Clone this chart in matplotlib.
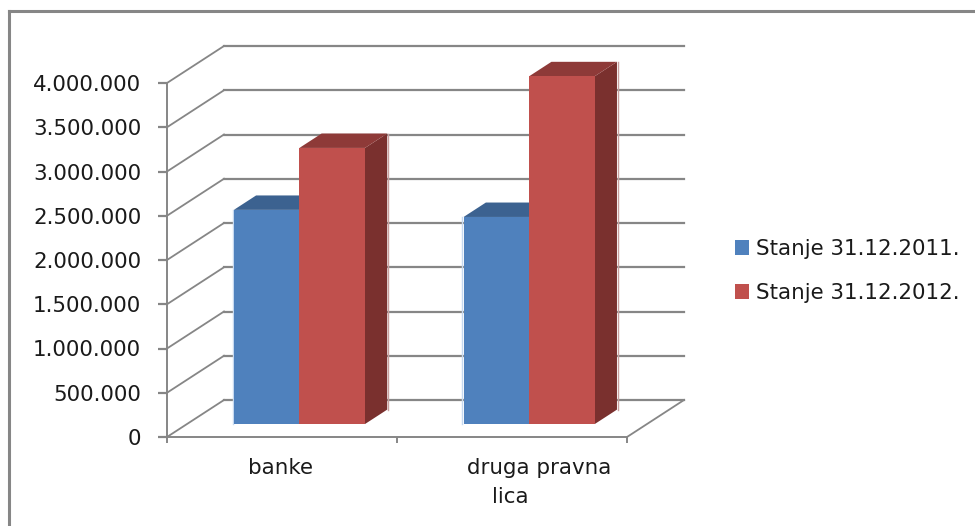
import matplotlib
matplotlib.use("Agg")
import matplotlib.pyplot as plt
from matplotlib.lines import Line2D
from matplotlib.patches import Patch

categories = ["banke", "druga pravna"]
series_names = ["Stanje 31.12.2011.", "Stanje 31.12.2012."]
stanje_2011 = [2420000, 2340000]
stanje_2012 = [3120000, 3930000]
yticks = [0, 500000, 1000000, 1500000, 2000000, 2500000, 3000000, 3500000, 4000000]
ylabels = ["0", "500.000", "1.000.000", "1.500.000", "2.000.000", "2.500.000",
           "3.000.000", "3.500.000", "4.000.000"]

GRAY = "#868686"
TEXT = "#1a1a1a"
FONT = 15.4
FRONT = ["#4F81BD", "#C0504D"]
TOP = ["#3C6290", "#8E3A38"]
SIDE = ["#345578", "#7A302E"]

W, H = 975, 526
fig = plt.figure(figsize=(W / 100, H / 100), dpi=100)
ax = fig.add_axes([167 / W, (H - 437) / H, 460 / W, 354 / H])
ax.set_xlim(0, 2)
ax.set_ylim(0, 4000000)

# depth of the 3d box, in data units
DX = 57 / 230
DY = 37 / 354 * 4000000
D_FRONT = 0.35
D_BACK = 0.74
BAR_W = 0.285
START = [0.204, 1.203]


def proj(x, v, d):
    return x + d * DX, v + d * DY


def box(x, v, i):
    x0, x1 = x, x + BAR_W
    face = [proj(x0, 0, D_FRONT), proj(x1, 0, D_FRONT), proj(x1, v, D_FRONT), proj(x0, v, D_FRONT)]
    top = [proj(x0, v, D_FRONT), proj(x1, v, D_FRONT), proj(x1, v, D_BACK), proj(x0, v, D_BACK)]
    side = [proj(x1, 0, D_FRONT), proj(x1, 0, D_BACK), proj(x1, v, D_BACK), proj(x1, v, D_FRONT)]
    for pts, col in ((side, SIDE[i]), (top, TOP[i]), (face, FRONT[i])):
        xs, ys = zip(*pts)
        ax.fill(xs, ys, color=col, lw=0, zorder=3 + i, clip_on=False)


# walls
for v in yticks:
    bx, by = proj(0, v, 1)
    ax.plot([0, bx], [v, by], color=GRAY, lw=1.3, zorder=2, clip_on=False)
    ex, ey = proj(2, v, 1)
    ax.plot([bx, ex], [by, ey], color=GRAY, lw=1.6, zorder=2, clip_on=False)
ex, ey = proj(2, 0, 1)
ax.plot([2, ex], [0, ey], color=GRAY, lw=1.3, zorder=2, clip_on=False)

for k in range(len(categories)):
    box(START[k], stanje_2011[k], 0)
    box(START[k] + BAR_W, stanje_2012[k], 1)
    # pale rims around the bars
    x0, y0 = proj(START[k], 0, D_FRONT)
    x1, y1 = proj(START[k], stanje_2011[k], D_FRONT)
    ax.plot([x0 - 0.005, x1 - 0.005], [y0, y1], color="#C6D9F0", lw=1.0, zorder=2.5, clip_on=False)
    x0, y0 = proj(START[k] + 2 * BAR_W, 0, D_BACK)
    x1, y1 = proj(START[k] + 2 * BAR_W, stanje_2012[k], D_BACK)
    ax.plot([x0 + 0.004, x1 + 0.004], [y0, y1], color="#C9A0A0", lw=1.0, zorder=2.5, clip_on=False)

for s in ("top", "right"):
    ax.spines[s].set_visible(False)
for s in ("left", "bottom"):
    ax.spines[s].set_color(GRAY)
    ax.spines[s].set_linewidth(1.4)

ax.set_yticks(yticks)
ax.set_yticklabels(ylabels, fontsize=FONT, color=TEXT)
ax.tick_params(axis="y", length=6.5, width=1.6, color=GRAY, pad=12)
ax.set_xticks([0, 1, 2])
ax.set_xticklabels([])
ax.tick_params(axis="x", length=4, width=1.4, color=GRAY)

# category labels
fig.text(281 / W, 1 - 468 / H, categories[0], fontsize=FONT, color=TEXT, ha="center", va="center")
fig.text(539 / W, 1 - 468 / H, categories[1], fontsize=FONT, color=TEXT, ha="center", va="center")
fig.text(510 / W, 1 - 497 / H, "lica", fontsize=FONT, color=TEXT, ha="center", va="center")

handles = [Patch(color=FRONT[0], lw=0), Patch(color=FRONT[1], lw=0)]
fig.legend(handles, series_names, loc="center left", bbox_to_anchor=(716 / W, 1 - 271 / H),
           frameon=False, fontsize=FONT, handlelength=0.66, handleheight=0.66, handletextpad=0.33,
           labelspacing=1.13, labelcolor=TEXT)

# chart border, only top and left are in the crop
fig.add_artist(Line2D([8.5 / W, 8.5 / W], [0, 1 - 10.5 / H], color=GRAY, lw=2.2))
fig.add_artist(Line2D([8.5 / W, 1], [1 - 10.5 / H, 1 - 10.5 / H], color=GRAY, lw=2.2))

fig.savefig("out.png", dpi=100)
